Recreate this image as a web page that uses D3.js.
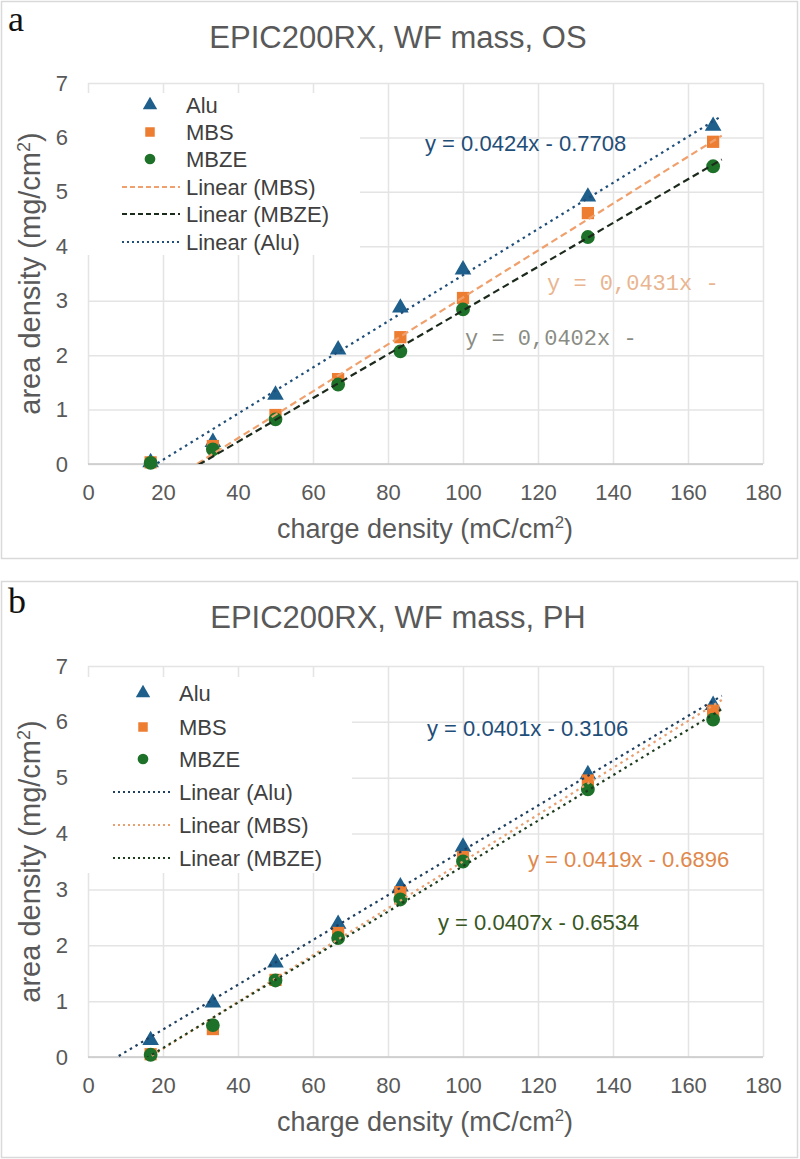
<!DOCTYPE html>
<html>
<head>
<meta charset="utf-8">
<script src="https://cdn.jsdelivr.net/npm/d3@7"></script>
<style>
  html, body { margin: 0; padding: 0; background: #fff; }
  svg { display: block; font-family: "Liberation Sans", Arial, sans-serif; }
</style>
</head>
<body>
<svg id="chart" width="800" height="1159"></svg>
<script>
// charge density (mC/cm2), same for both panels
var xCharge = [16.7, 33.3, 50, 66.7, 83.3, 100, 133.3, 166.7];
var xTicks = [0, 20, 40, 60, 80, 100, 120, 140, 160, 180];
var yTicks = [0, 1, 2, 3, 4, 5, 6, 7];

// panel a, OS
var osAlu  = [0.03, 0.40, 1.27, 2.10, 2.87, 3.57, 4.91, 6.21];
var osMBS  = [0.03, 0.33, 0.90, 1.56, 2.33, 3.05, 4.61, 5.92];
var osMBZE = [0.02, 0.27, 0.82, 1.46, 2.07, 2.84, 4.17, 5.47];
// trendline slope / intercept
var osTrendAlu  = [0.0424, -0.7708];
var osTrendMBS  = [0.0431, -1.25];
var osTrendMBZE = [0.0402, -1.20];

// panel b, PH
var phAlu  = [0.30, 0.97, 1.69, 2.38, 3.05, 3.76, 5.06, 6.30];
var phMBS  = [0.05, 0.50, 1.38, 2.22, 2.95, 3.58, 4.95, 6.20];
var phMBZE = [0.04, 0.57, 1.37, 2.13, 2.82, 3.50, 4.79, 6.04];
var phTrendAlu  = [0.0401, -0.3106];
var phTrendMBS  = [0.0419, -0.6896];
var phTrendMBZE = [0.0407, -0.6534];

var trendSpan = [6.7, 169];

var osEquations = ['y = 0.0424x - 0.7708', 'y = 0,0431x -', 'y = 0,0402x -'];
var phEquations = ['y = 0.0401x - 0.3106', 'y = 0.0419x - 0.6896', 'y = 0.0407x - 0.6534'];

var BLUE = '#1f5f8b', ORANGE = '#ed7d31', GREEN = '#1e7128';
var TXT = '#595959';

var svg = d3.select('#chart');

function supLabel(sel, main, tail) {
  sel.append('tspan').text(main);
  sel.append('tspan').text('2').attr('font-size', '0.62em').attr('dy', -10);
  sel.append('tspan').text(tail).attr('dy', 10);
}

function panel(cfg) {
  var g = svg.append('g');

  g.append('rect')
    .attr('x', 1.5).attr('y', cfg.boxTop + 0.5)
    .attr('width', 796).attr('height', cfg.boxH)
    .attr('fill', '#fff').attr('stroke', '#d9d9d9').attr('stroke-width', 1.5);

  g.append('text')
    .attr('x', 8).attr('y', cfg.boxTop + cfg.letterY)
    .attr('font-family', '"Liberation Serif", "Times New Roman", serif')
    .attr('font-size', 36).attr('fill', '#111')
    .text(cfg.letter);

  g.append('text')
    .attr('x', 398).attr('y', cfg.boxTop + 47)
    .attr('text-anchor', 'middle')
    .attr('font-size', 31).attr('fill', TXT)
    .text(cfg.title);

  var x = d3.scaleLinear().domain([0, 180]).range([88, 763]);
  var y = d3.scaleLinear().domain([0, 7]).range([cfg.bottom, cfg.top]);

  // grid
  g.append('g')
    .attr('transform', 'translate(88,0)')
    .call(d3.axisLeft(y).tickValues(yTicks).tickSize(-675).tickFormat(''))
    .call(function (a) { a.select('.domain').remove(); })
    .selectAll('line').attr('stroke', '#e4e4e4').attr('stroke-width', 1.5);
  g.append('g')
    .attr('transform', 'translate(0,' + cfg.bottom + ')')
    .call(d3.axisBottom(x).tickValues(xTicks).tickSize(-(cfg.bottom - cfg.top)).tickFormat(''))
    .call(function (a) { a.select('.domain').remove(); })
    .selectAll('line').attr('stroke', '#e4e4e4').attr('stroke-width', 1.5);
  g.append('line')
    .attr('x1', x(0)).attr('x2', x(180))
    .attr('y1', y(0)).attr('y2', y(0))
    .attr('stroke', '#c9c9c9').attr('stroke-width', 1.5);

  // tick labels
  var xa = g.append('g')
    .attr('transform', 'translate(0,' + cfg.bottom + ')')
    .call(d3.axisBottom(x).tickValues(xTicks).tickFormat(d3.format('d')).tickSize(0).tickPadding(20));
  xa.select('.domain').remove();
  xa.selectAll('text').attr('font-size', 22).attr('fill', TXT).attr('font-family', null);

  var ya = g.append('g')
    .attr('transform', 'translate(88,0)')
    .call(d3.axisLeft(y).tickValues(yTicks).tickFormat(d3.format('d')).tickSize(0).tickPadding(20));
  ya.select('.domain').remove();
  ya.selectAll('text').attr('font-size', 22).attr('fill', TXT).attr('font-family', null);

  // axis titles
  var xt = g.append('text')
    .attr('x', 425).attr('y', cfg.bottom + 74)
    .attr('text-anchor', 'middle')
    .attr('font-size', 27).attr('fill', TXT);
  supLabel(xt, 'charge density (mC/cm', ')');

  var yt = g.append('text')
    .attr('transform', 'translate(40,' + ((cfg.top + cfg.bottom) / 2) + ') rotate(-90)')
    .attr('text-anchor', 'middle')
    .attr('font-size', 29).attr('fill', TXT);
  supLabel(yt, 'area density (mg/cm', ')');

  var clipId = 'clip' + cfg.letter;
  svg.append('clipPath').attr('id', clipId)
    .append('rect')
    .attr('x', x(0)).attr('y', y(7))
    .attr('width', x(180) - x(0)).attr('height', y(0) - y(7));

  var series = [
    { vals: cfg.alu,  sym: d3.symbolTriangle, size: 120, color: BLUE },
    { vals: cfg.mbs,  sym: d3.symbolSquare,   size: 150, color: ORANGE },
    { vals: cfg.mbze, sym: d3.symbolCircle,   size: 150, color: GREEN }
  ];
  series.forEach(function (s) {
    g.append('g').selectAll('path')
      .data(xCharge)
      .enter()
      .append('path')
      .attr('d', d3.symbol().type(s.sym).size(s.size))
      .attr('fill', s.color)
      .attr('transform', function (d, i) {
        return 'translate(' + x(d) + ',' + y(s.vals[i]) + ')';
      });
  });

  var line = d3.line()
    .x(function (d) { return x(d[0]); })
    .y(function (d) { return y(d[1]); });
  cfg.trends.forEach(function (t) {
    var pts = trendSpan.map(function (v) { return [v, t.c[0] * v + t.c[1]]; });
    g.append('path')
      .attr('clip-path', 'url(#' + clipId + ')')
      .attr('d', line(pts))
      .attr('fill', 'none')
      .attr('stroke', t.color)
      .attr('stroke-width', 2.2)
      .attr('stroke-dasharray', t.dash);
  });

  // legend
  var lg = cfg.legend;
  g.append('rect')
    .attr('x', 86).attr('y', lg.y0)
    .attr('width', lg.w).attr('height', lg.h)
    .attr('fill', '#fff');
  lg.items.forEach(function (it, i) {
    var yy = lg.rows[i];
    if (it.sym) {
      g.append('path')
        .attr('d', d3.symbol().type(it.sym).size(90))
        .attr('fill', it.color)
        .attr('transform', 'translate(' + lg.mx + ',' + yy + ')');
    } else {
      g.append('line')
        .attr('x1', lg.lx[0]).attr('x2', lg.lx[1])
        .attr('y1', yy).attr('y2', yy)
        .attr('stroke', it.color).attr('stroke-width', 2)
        .attr('stroke-dasharray', it.dash);
    }
    g.append('text')
      .attr('x', lg.tx).attr('y', yy)
      .attr('dy', '0.35em')
      .attr('font-size', 22).attr('fill', '#404040')
      .text(it.label);
  });

  cfg.eqs.forEach(function (e) {
    g.append('text')
      .attr('x', e.x).attr('y', e.y)
      .attr('dy', '0.35em')
      .attr('font-size', 22)
      .attr('font-family', e.mono ? '"Liberation Mono", "Courier New", monospace' : null)
      .attr('fill', e.color)
      .text(e.text);
  });
}

panel({
  letter: 'a', letterY: 30, boxTop: 1, boxH: 557,
  title: 'EPIC200RX, WF mass, OS',
  top: 83, bottom: 464,
  alu: osAlu, mbs: osMBS, mbze: osMBZE,
  trends: [
    { c: osTrendMBS,  color: '#f0a06c', dash: '7,4' },
    { c: osTrendMBZE, color: '#1c2a1c', dash: '7,4' },
    { c: osTrendAlu,  color: '#1f4e79', dash: '2.5,4' }
  ],
  legend: {
    y0: 93, w: 274, h: 162, mx: 150, tx: 186, lx: [122, 180],
    rows: [105, 132, 159, 187, 214, 242],
    items: [
      { label: 'Alu', sym: d3.symbolTriangle, color: BLUE },
      { label: 'MBS', sym: d3.symbolSquare, color: ORANGE },
      { label: 'MBZE', sym: d3.symbolCircle, color: GREEN },
      { label: 'Linear (MBS)', color: '#f0a06c', dash: '5,3' },
      { label: 'Linear (MBZE)', color: '#1c2a1c', dash: '5,3' },
      { label: 'Linear (Alu)', color: '#1f4e79', dash: '2,3' }
    ]
  },
  eqs: [
    { text: osEquations[0], x: 425, y: 143, color: '#1f4e79' },
    { text: osEquations[1], x: 547, y: 282, color: '#e9b590', mono: true },
    { text: osEquations[2], x: 465, y: 337, color: '#8a8c84', mono: true }
  ]
});

panel({
  letter: 'b', letterY: 32, boxTop: 581, boxH: 576,
  title: 'EPIC200RX, WF mass, PH',
  top: 666, bottom: 1057,
  alu: phAlu, mbs: phMBS, mbze: phMBZE,
  trends: [
    { c: phTrendAlu,  color: '#1f3f5f', dash: '2.5,4' },
    { c: phTrendMBS,  color: '#e8a070', dash: '2.5,4' },
    { c: phTrendMBZE, color: '#1e3d1e', dash: '2.5,4' }
  ],
  legend: {
    y0: 677, w: 266, h: 196, mx: 143, tx: 179, lx: [113, 172],
    rows: [693, 727, 759, 792, 825, 858],
    items: [
      { label: 'Alu', sym: d3.symbolTriangle, color: BLUE },
      { label: 'MBS', sym: d3.symbolSquare, color: ORANGE },
      { label: 'MBZE', sym: d3.symbolCircle, color: GREEN },
      { label: 'Linear (Alu)', color: '#1f3f5f', dash: '2,3' },
      { label: 'Linear (MBS)', color: '#e8a070', dash: '2,3' },
      { label: 'Linear (MBZE)', color: '#1e3d1e', dash: '2,3' }
    ]
  },
  eqs: [
    { text: phEquations[0], x: 427, y: 728, color: '#1f4e79' },
    { text: phEquations[1], x: 528, y: 859, color: '#e0884c' },
    { text: phEquations[2], x: 438, y: 922, color: '#375623' }
  ]
});
</script>
</body>
</html>
